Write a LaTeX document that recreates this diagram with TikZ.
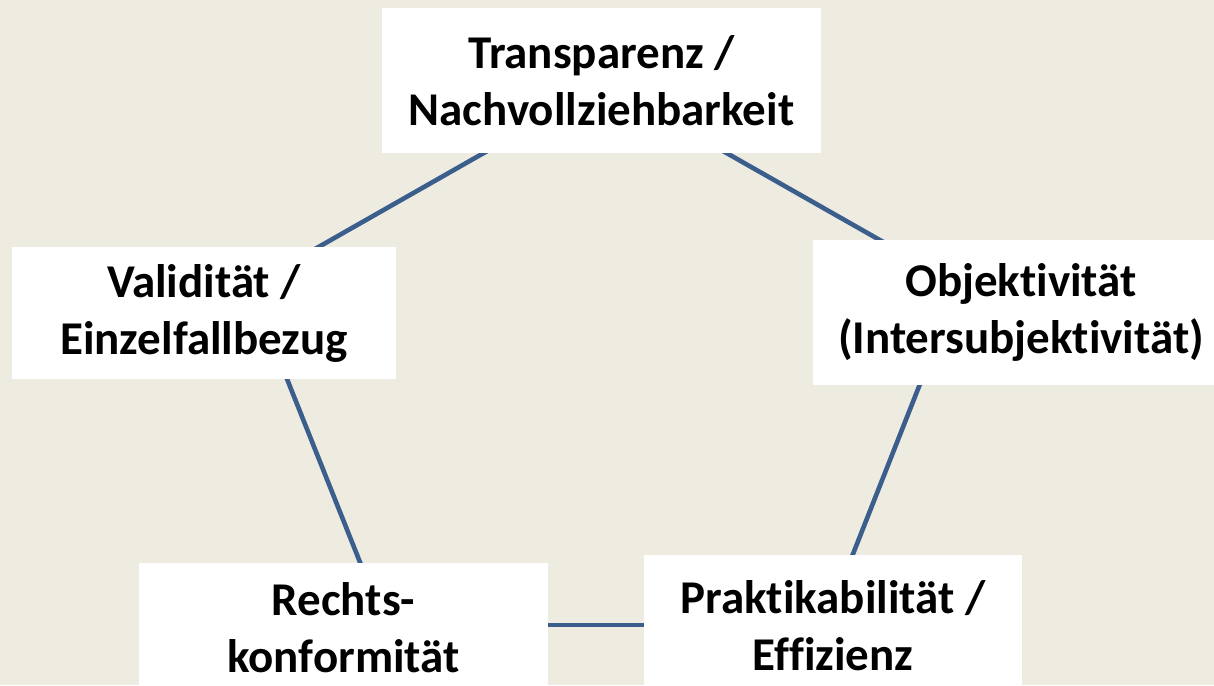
\documentclass[tikz,border=0pt]{standalone}
\usepackage{fontspec}
\setmainfont{Carlito}[Ligatures=NoCommon]
\definecolor{bg}{HTML}{EEECE1}
\definecolor{edge}{HTML}{3B5E8C}
\begin{document}
\begin{tikzpicture}[x=1pt,y=-1pt,
  box/.style={fill=white,draw=none,inner sep=0pt,align=center,
    font=\bfseries\fontsize{47}{57}\selectfont,text=black},
  link/.style={draw=edge,line width=4.6pt}]
\useasboundingbox (0,0) rectangle (1214,685);
\clip (0,0) rectangle (1214,685);
\fill[bg] (0,0) rectangle (1214,685);
% pentagon vertices (hidden behind the boxes)
\coordinate (vT) at (605,84);
\coordinate (vL) at (250,286);
\coordinate (vR) at (959,285);
\coordinate (vBL) at (385,625);
\coordinate (vBR) at (825,625);
\draw[link] (vT) -- (vL);
\draw[link] (vL) -- (vBL);
\draw[link] (vBL) -- (vBR);
\draw[link] (vBR) -- (vR);
\draw[link] (vR) -- (vT);
\node[box,minimum width=439pt,minimum height=145pt] (T) at (601.5,80.5) {Transparenz /\\Nachvollziehbarkeit};
\node[box,minimum width=384pt,minimum height=132pt] (L) at (204,313) {Validität /\\Einzelfallbezug};
\node[box,minimum width=416pt,minimum height=145pt] (R) at (1021,312.5) {Objektivität\\(Intersubjektivität)};
\node[box,minimum width=409pt,minimum height=129pt] (BL) at (343.5,627.5) {Rechts-\\konformität};
\node[box,minimum width=378pt,minimum height=141pt] (BR) at (833,625.5) {Praktikabilität /\\Effizienz};
\end{tikzpicture}
\end{document}
